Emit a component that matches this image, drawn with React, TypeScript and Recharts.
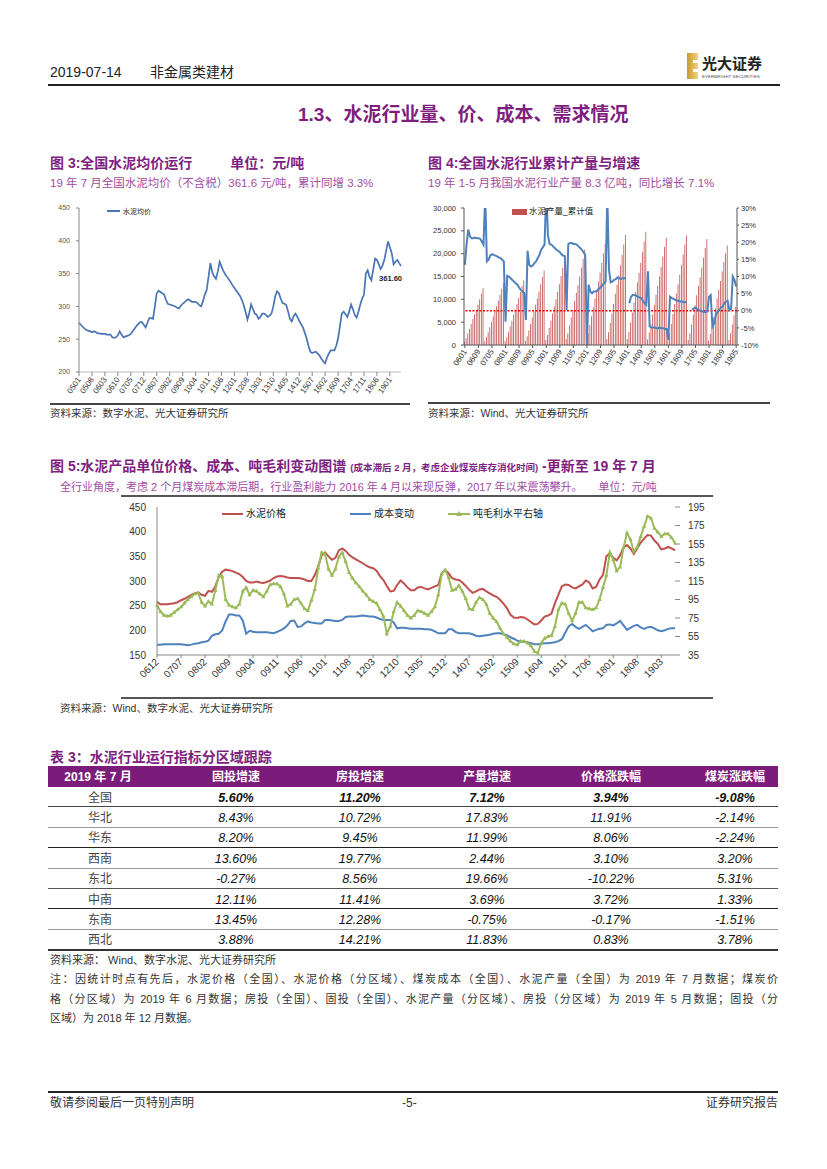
import React from "react";
import { LineChart, ComposedChart, Line, Bar, XAxis, YAxis, ReferenceLine } from "recharts";

const FONT = "'Liberation Sans', Arial, 'Noto Sans CJK SC', sans-serif";
const PURPLE = "#7e1f7f";
const PURPLE_LIGHT = "#a24ca2";

// month labels like "0501" for a run of consecutive months
const monthSeq = (startYear: number, startMonth: number, count: number) =>
  Array.from({ length: count }, (_, i) => {
    const t = startYear * 12 + (startMonth - 1) + i;
    const yy = Math.floor(t / 12) % 100;
    const mm = (t % 12) + 1;
    return `${String(yy).padStart(2, "0")}${String(mm).padStart(2, "0")}`;
  });

// ---- 图3: 全国水泥均价 (2005-01 .. 2019-07)
const avgPriceMonths = monthSeq(2005, 1, 175);
const avgPrice = [
  275, 272, 269, 266, 264, 263, 262, 261, 262, 261, 259, 259,
  258, 258, 258, 257, 257, 257, 253, 252, 253, 256, 262, 257,
  253, 254, 255, 256, 258, 262, 266, 270, 273, 276, 276, 272,
  268, 275, 282, 282, 281, 300, 320, 324, 322, 320, 318, 310,
  304, 303, 302, 301, 300, 298, 297, 301, 304, 306, 309, 311,
  309, 307, 307, 307, 305, 302, 300, 308, 318, 325, 345, 366,
  352, 346, 342, 353, 368, 361, 354, 349, 345, 341, 337, 332,
  328, 324, 320, 316, 310, 302, 292, 280, 290, 303, 296, 289,
  287, 281, 284, 289, 289, 287, 284, 286, 289, 300, 315, 323,
  320, 312, 305, 304, 302, 292, 281, 277, 285, 289, 284, 278,
  273, 268, 260, 251, 240, 231, 229, 230, 231, 228, 225, 220,
  216, 213, 222, 228, 233, 233, 233, 240, 251, 270, 289, 292,
  288, 284, 292, 303, 296, 287, 283, 292, 303, 312, 318, 350,
  355, 345, 340, 356, 373, 371, 364, 357, 362, 371, 385, 399,
  390, 381, 364, 368, 371, 366, 361.6,
];
const avgPriceTicks = [200, 250, 300, 350, 400, 450];

// ---- 图4: 水泥产量累计值 与 累计同比 (2006-01 .. 2019-05)
const outputMonths = monthSeq(2006, 1, 161);
const outputCum = [
  700, 1500, 2500, 3500, 4600, 5700, 6700, 7700, 8800, 10000, 11200, 12400,
  800, 1700, 2800, 3900, 5100, 6300, 7400, 8500, 9700, 11000, 12300, 13600,
  800, 1700, 2900, 4100, 5300, 6600, 7800, 9000, 10300, 11600, 12900, 14200,
  900, 1900, 3200, 4600, 6000, 7400, 8800, 10200, 11700, 13300, 14900, 16300,
  1100, 2200, 3700, 5300, 6900, 8500, 10000, 11600, 13300, 15100, 16900, 18700,
  1300, 2600, 4300, 6000, 7800, 9700, 11400, 13100, 15000, 16900, 18900, 20900,
  1200, 2600, 4400, 6300, 8200, 10200, 12000, 13900, 15900, 18000, 20100, 22100,
  1300, 2800, 4800, 6900, 9000, 11200, 13200, 15200, 17400, 19700, 22000, 24100,
  1300, 2900, 4900, 7100, 9300, 11600, 13700, 15800, 18000, 20300, 22600, 24800,
  1200, 2700, 4600, 6700, 8800, 11000, 13000, 15000, 17100, 19300, 21500, 23500,
  1100, 2600, 4600, 6800, 9000, 11300, 13300, 15400, 17600, 19800, 22000, 24000,
  1100, 2600, 4500, 6600, 8700, 10900, 12900, 14800, 16900, 19100, 21300, 23200,
  1000, 2400, 4000, 6000, 8000, 10200, 12100, 14000, 16100, 18200, 20100, 21800,
  1100, 2700, 4500, 6500, 8300,
];
const outputYoy: (number | null)[] = [
  13.4, 19.3, 23.7, 21.7, 21.2, 21.2, 21.4, 21.2, 21.2, 21.0, 20.2, 19.3,
  34, 14.4, 14.9, 16.1, 16.5, 16.3, 16.1, 15.9, 15.6, 15.4, 14.9, 14.4,
  -3.2, 10.2, 10.0, 9.5, 9.0, 8.5, 8.0, 7.6, 6.8, 6.1, 5.6, 5.1,
  -2.7, 17.5, 13.4, 12.9, 13.2, 13.9, 14.4, 15.4, 16.3, 17.8, 18.5, 19.3,
  35, 22.0, 19.5, 19.3, 18.8, 18.3, 17.8, 17.5, 17.1, 16.5, 16.1, 15.9,
  0.2, 19.5, 19.8, 19.8, 19.5, 19.5, 19.3, 18.8, 18.3, 17.8, 17.1, 16.3,
  -10.5, 7.6, 5.6, 5.1, 5.6, 5.6, 5.8, 6.4, 6.8, 7.4, 8.0, 8.5,
  34, 12.0, 8.3, 8.5, 9.0, 9.2, 9.7, 9.5, 9.3, 9.5, 9.5, 9.5,
  null, 2.2, 4.1, 4.6, 4.6, 4.4, 4.1, 3.9, 3.7, 2.9, 2.2, 1.7,
  11.5, -4.6, -4.9, -4.9, -4.9, -5.1, -5.1, -4.9, -5.1, -5.1, -5.3, -5.3,
  -8.5, 4.1, 3.7, 3.5, 3.2, 2.9, 2.9, 2.7, 2.7, 2.5, 2.5, 2.7,
  null, null, 0.3, 0.7, 0.9, 0.5, 0.2, 0.0, -0.2, -0.4, -0.4, -0.2,
  4.1, 4.6, -4.6, -3.7, -1.2, -0.4, 0.2, 0.9, 1.2, 2.2, 2.7, 2.9,
  0.2, 0.5, 10.0, 9.0, 7.1,
];
const outputTicks = [0, 5000, 10000, 15000, 20000, 25000, 30000];
const yoyTicks = [-10, -5, 0, 5, 10, 15, 20, 25, 30];

// ---- 图5: 价格、成本、吨毛利 (2006-12 .. 2019-07)
const marginMonths = monthSeq(2006, 12, 152);
const cementPrice = [
  258, 253, 253, 253, 254, 255, 257, 261, 264, 268, 272, 275,
  277, 272, 270, 280, 278, 289, 308, 319, 323, 322, 320, 317,
  314, 308, 300, 297, 297, 299, 297, 296, 298, 301, 306, 309,
  310, 309, 307, 306, 306, 306, 305, 303, 300, 300, 312, 330,
  352, 358, 350, 343, 347, 362, 366, 361, 353, 348, 344, 340,
  336, 331, 328, 326, 321, 310, 302, 290, 279, 280, 292, 301,
  295, 287, 281, 281, 287, 288, 285, 283, 286, 289, 292, 315,
  322, 316, 306, 303, 302, 297, 290, 282, 276, 279, 283, 284,
  279, 275, 271, 268, 262, 254, 245, 232, 226, 225, 227, 226,
  222, 217, 212, 213, 220, 228, 230, 234, 255, 272, 289, 293,
  292, 287, 285, 289, 293, 301, 297, 285, 288, 303, 312, 350,
  356, 347, 342, 352, 368, 373, 366, 355, 366, 378, 386, 393,
  392, 382, 375, 364, 366, 369, 366, 362,
];
const costChange = [
  171, 171, 172, 172, 172, 172, 172, 172, 171, 170, 171, 173,
  174, 176, 177, 179, 189, 192, 193, 200, 218, 232, 232, 230,
  230, 220, 193, 199, 197, 196, 196, 196, 196, 195, 194, 197,
  200, 204, 210, 219, 220, 207, 208, 214, 218, 216, 215, 214,
  214, 221, 221, 220, 219, 219, 221, 227, 228, 228, 228, 229,
  230, 229, 228, 228, 226, 223, 221, 221, 221, 216, 204, 205,
  205, 204, 203, 203, 203, 203, 202, 202, 201, 198, 194, 194,
  194, 202, 202, 197, 194, 194, 194, 194, 192, 189, 188, 189,
  190, 191, 193, 194, 194, 192, 190, 186, 183, 179, 177, 177,
  176, 174, 172, 172, 173, 174, 174, 175, 176, 178, 182, 195,
  208, 213, 207, 203, 207, 211, 205, 198, 201, 203, 204, 211,
  212, 210, 214, 219, 210, 201, 205, 209, 211, 206, 203, 206,
  207, 204, 200, 198, 200, 203, 204, 204,
];
const grossMargin = [
  89, 82, 78, 77, 78, 81, 84, 87, 91, 95, 98, 101,
  102, 92, 88, 93, 90, 105, 121, 120, 95, 89, 87, 86,
  90, 104, 108, 100, 105, 104, 101, 98, 104, 111, 112, 112,
  109, 101, 88, 90, 95, 96, 91, 85, 83, 94, 106, 129,
  146, 144, 128, 121, 128, 141, 146, 136, 124, 118, 113, 109,
  104, 100, 95, 93, 91, 84, 77, 58, 66, 82, 92, 88,
  83, 78, 75, 78, 83, 82, 80, 78, 82, 87, 100, 123,
  127, 119, 105, 106, 110, 104, 96, 85, 84, 92, 97, 95,
  90, 80, 75, 71, 64, 58, 54, 50, 47, 46, 50, 50,
  48, 45, 39, 37, 48, 53, 55, 56, 66, 84, 91, 90,
  80, 72, 80, 92, 92, 86, 85, 84, 86, 95, 108, 121,
  146, 138, 126, 130, 151, 167, 160, 147, 152, 163, 174, 185,
  183, 172, 168, 163, 166, 166, 162, 156,
];
const priceTicks = [150, 200, 250, 300, 350, 400, 450];
const marginTicks = [35, 55, 75, 95, 115, 135, 155, 175, 195];

// ---- 表3
const tableHead = ["2019 年 7 月", "固投增速", "房投增速", "产量增速", "价格涨跌幅", "煤炭涨跌幅"];
const regions = ["全国", "华北", "华东", "西南", "东北", "中南", "东南", "西北"];
const fixedInvest = ["5.60%", "8.43%", "8.20%", "13.60%", "-0.27%", "12.11%", "13.45%", "3.88%"];
const estateInvest = ["11.20%", "10.72%", "9.45%", "19.77%", "8.56%", "11.41%", "12.28%", "14.21%"];
const outputGrowth = ["7.12%", "17.83%", "11.99%", "2.44%", "19.66%", "3.69%", "-0.75%", "11.83%"];
const priceGrowth = ["3.94%", "11.91%", "8.06%", "3.10%", "-10.22%", "3.72%", "-0.17%", "0.83%"];
const coalGrowth = ["-9.08%", "-2.14%", "-2.24%", "3.20%", "5.31%", "1.33%", "-1.51%", "3.78%"];

const avgPriceData = avgPriceMonths.map((month, i) => ({ month, price: avgPrice[i] }));
const outputData = outputMonths.map((month, i) => ({ month, cum: outputCum[i], yoy: outputYoy[i] }));
const marginData = marginMonths.map((month, i) => ({
  month,
  price: cementPrice[i],
  cost: costChange[i],
  margin: grossMargin[i],
}));

const RotTick = (props: any) => {
  const { x, y, payload, angle, fs } = props;
  return (
    <g transform={`translate(${x},${y})`}>
      <text x={0} y={0} dy={fs * 0.35} textAnchor="end" transform={`rotate(${angle})`}
        fontSize={fs} fill="#333" fontFamily={FONT}>
        {payload.value}
      </text>
    </g>
  );
};

const Txt = ({ x, y, size, color = "#222", bold = false, children, style = {} }: any) => (
  <div style={{
    position: "absolute", left: x, top: y, fontSize: size, lineHeight: 1, color,
    fontWeight: bold ? 700 : 400, whiteSpace: "nowrap", ...style,
  }}>
    {children}
  </div>
);

const HLine = ({ x, y, w, h = 1, color = "#333" }: any) => (
  <div style={{ position: "absolute", left: x, top: y, width: w, height: h, background: color }} />
);

const LegendLine = ({ x, y, w, color, text, size, tri = false }: any) => (
  <div style={{ position: "absolute", left: x, top: y - size / 2, height: size, display: "flex", alignItems: "center", fontSize: size, lineHeight: 1, color: "#222", whiteSpace: "nowrap" }}>
    <svg width={w} height={8} style={{ marginRight: 3 }}>
      <line x1={0} y1={4} x2={w} y2={4} stroke={color} strokeWidth={2} />
      {tri && <path d={`M${w / 2},1L${w / 2 + 3},6L${w / 2 - 3},6Z`} fill={color} />}
    </svg>
    {text}
  </div>
);

const AvgPriceChart = () => (
  <LineChart width={360} height={205} data={avgPriceData} margin={{ top: 11, right: 9, left: 0, bottom: 0 }}>
    <XAxis dataKey="month" interval={6} height={30} tickSize={4}
      tick={<RotTick angle={-55} fs={8} />}
      axisLine={{ stroke: "#bbb" }} tickLine={{ stroke: "#888" }} />
    <YAxis domain={[200, 450]} ticks={avgPriceTicks} width={29} tickSize={3} tickMargin={6}
      tick={{ fontSize: 7, fill: "#555", fontFamily: FONT }}
      axisLine={{ stroke: "#888" }} tickLine={{ stroke: "#888" }} />
    <Line dataKey="price" stroke="#4a74b3" strokeWidth={1.7} dot={false} isAnimationActive={false}
      label={(p: any) =>
        p.index === avgPrice.length - 1 ? (
          <text key="last" x={p.x + 1} y={p.y + 15} textAnchor="end" fontSize={7.5} fontWeight="bold" fill="#222" fontFamily={FONT}>
            {Number(p.value).toFixed(2)}
          </text>
        ) : <g key={p.index} />
      } />
  </LineChart>
);

const OutputChart = () => (
  <ComposedChart width={345} height={190} data={outputData} margin={{ top: 11, right: 6, left: 0, bottom: 0 }}>
    <XAxis dataKey="month" interval={7} height={42} tickSize={3}
      tick={<RotTick angle={-56} fs={8} />}
      axisLine={{ stroke: "#555" }} tickLine={{ stroke: "#555" }} />
    <YAxis yAxisId="l" domain={[0, 30000]} ticks={outputTicks} width={36} tickSize={3} tickMargin={5}
      tickFormatter={(v: number) => v.toLocaleString("en-US")}
      tick={{ fontSize: 7.5, fill: "#333", fontFamily: FONT }}
      axisLine={{ stroke: "#555" }} tickLine={{ stroke: "#555" }} />
    <YAxis yAxisId="r" orientation="right" domain={[-10, 30]} ticks={yoyTicks} width={30} allowDataOverflow
      tickSize={2} tickMargin={2} tickFormatter={(v: number) => `${v}%`}
      tick={{ fontSize: 7.5, fill: "#333", fontFamily: FONT }}
      axisLine={{ stroke: "#555" }} tickLine={{ stroke: "#555" }} />
    <Bar yAxisId="l" dataKey="cum" fill="#c0504d" barSize={0.8} isAnimationActive={false} />
    <ReferenceLine yAxisId="r" y={0} stroke="#ff0000" strokeDasharray="2 1.5" strokeWidth={1.6} />
    <Line yAxisId="r" dataKey="yoy" stroke="#4f81bd" strokeWidth={2} dot={false} connectNulls={false} isAnimationActive={false} />
  </ComposedChart>
);

const triDot = (p: any) =>
  p.cy == null ? <g key={p.index} /> : (
    <path key={p.index} d={`M${p.cx},${p.cy - 2.4}L${p.cx + 2.1},${p.cy + 1.4}L${p.cx - 2.1},${p.cy + 1.4}Z`} fill="#9bbb59" />
  );

const MarginChart = () => (
  <LineChart width={592} height={198} data={marginData} margin={{ top: 9, right: 8, left: 0, bottom: 0 }}>
    <XAxis dataKey="month" interval={6} height={41} tickSize={3}
      tick={<RotTick angle={-45} fs={10} />}
      axisLine={{ stroke: "#888" }} tickLine={{ stroke: "#888" }} />
    <YAxis yAxisId="l" domain={[150, 450]} ticks={priceTicks} width={36} tickSize={0} tickMargin={11}
      tick={{ fontSize: 10, fill: "#333", fontFamily: FONT }}
      axisLine={{ stroke: "#888" }} tickLine={false} />
    <YAxis yAxisId="r" orientation="right" domain={[35, 195]} ticks={marginTicks} width={30} tickSize={5} tickMargin={8}
      tick={{ fontSize: 10, fill: "#333", fontFamily: FONT }}
      axisLine={false} tickLine={{ stroke: "#888" }} />
    <Line yAxisId="l" dataKey="price" stroke="#c0504d" strokeWidth={2} dot={false} isAnimationActive={false} />
    <Line yAxisId="l" dataKey="cost" stroke="#4f81bd" strokeWidth={2} dot={false} isAnimationActive={false} />
    <Line yAxisId="r" dataKey="margin" stroke="#9bbb59" strokeWidth={2} dot={triDot} isAnimationActive={false} />
  </LineChart>
);

const colCenters = [98, 236, 360, 487, 611, 735];
const rowLines = ["#444", "#999", "#222", "#999", "#555", "#222", "#999", "#333"];

const DataTable = () => {
  const cols = [fixedInvest, estateInvest, outputGrowth, priceGrowth, coalGrowth];
  return (
    <>
      <div style={{ position: "absolute", left: 48, top: 766, width: 730, height: 21, background: "#7b1c7a" }} />
      {tableHead.map((h, i) => (
        <Txt key={h} x={colCenters[i] - 60} y={770.5} size={12} bold color="#fff"
          style={{ width: 120, textAlign: "center" }}>{h}</Txt>
      ))}
      {regions.map((r, ri) => {
        const top = 787 + ri * 20.4;
        return (
          <React.Fragment key={r}>
            <Txt x={colCenters[0] - 58} y={top + 4.5} size={12} color="#444" style={{ width: 120, textAlign: "center" }}>{r}</Txt>
            {cols.map((c, ci) => (
              <Txt key={ci} x={colCenters[ci + 1] - 60} y={top + 4.5} size={12.5} color="#111" bold={ri === 0}
                style={{ width: 120, textAlign: "center", fontStyle: "italic" }}>{c[ri]}</Txt>
            ))}
            <HLine x={48} y={top + 19.4} w={730} h={ri === regions.length - 1 ? 2 : 1} color={rowLines[ri]} />
          </React.Fragment>
        );
      })}
    </>
  );
};

const App = () => (
  <div style={{ position: "absolute", left: 0, top: 0, width: 827, height: 1169, background: "#fff", overflow: "hidden", fontFamily: FONT }}>
    {/* header */}
    <Txt x={50} y={65} size={14} color="#222">2019-07-14</Txt>
    <Txt x={150} y={65} size={14} color="#222">非金属类建材</Txt>
    <HLine x={48} y={84} w={732} h={1.5} color="#222" />
    <div style={{ position: "absolute", left: 687, top: 53, width: 11, height: 26, background: "linear-gradient(90deg,#c99a2e,#f1d27c)" }} />
    <div style={{ position: "absolute", left: 693, top: 60, width: 5, height: 3, background: "#fff" }} />
    <div style={{ position: "absolute", left: 693, top: 69, width: 5, height: 3, background: "#fff" }} />
    <Txt x={702} y={56} size={15} bold color="#222">光大证券</Txt>
    <Txt x={702} y={74} size={6} color="#444" style={{ transform: "scale(0.7)", transformOrigin: "left top", letterSpacing: 0.3 }}>EVERBRIGHT SECURITIES</Txt>

    <Txt x={298} y={105} size={19} bold color={PURPLE}>1.3、水泥行业量、价、成本、需求情况</Txt>

    {/* figure 3 */}
    <Txt x={50} y={156} size={14} bold color={PURPLE}>图 3:全国水泥均价运行<span style={{ marginLeft: 38 }}>单位：元/吨</span></Txt>
    <Txt x={50} y={178} size={11.5} color={PURPLE_LIGHT}>19 年 7 月全国水泥均价（不含税）361.6 元/吨，累计同增 3.3%</Txt>
    <div style={{ position: "absolute", left: 50, top: 197 }}><AvgPriceChart /></div>
    <LegendLine x={107} y={211} w={13} color="#4a74b3" text="水泥均价" size={7} />
    <HLine x={50} y={403} w={360} h={1.5} color="#444" />
    <Txt x={50} y={408} size={10.5} color="#333">资料来源：数字水泥、光大证券研究所</Txt>

    {/* figure 4 */}
    <Txt x={428} y={156} size={14} bold color={PURPLE}>图 4:全国水泥行业累计产量与增速</Txt>
    <Txt x={428} y={178} size={11.5} color={PURPLE_LIGHT}>19 年 1-5 月我国水泥行业产量 8.3 亿吨，同比增长 7.1%</Txt>
    <div style={{ position: "absolute", left: 428, top: 197 }}><OutputChart /></div>
    <div style={{ position: "absolute", left: 512, top: 207, height: 9, display: "flex", alignItems: "center", fontSize: 8.5, lineHeight: 1, whiteSpace: "nowrap", color: "#222" }}>
      <span style={{ display: "inline-block", width: 15, height: 6, background: "#c0504d", marginRight: 2 }} />水泥产量_累计值
    </div>
    <HLine x={428} y={402} w={342} h={1.5} color="#444" />
    <Txt x={428} y={408} size={10.5} color="#333">资料来源：Wind、光大证券研究所</Txt>

    {/* figure 5 */}
    <Txt x={50} y={459} size={14} bold color={PURPLE}>
      图 5:水泥产品单位价格、成本、吨毛利变动图谱<span style={{ fontSize: 9.5, marginLeft: 4 }}>(成本滞后 2 月，考虑企业煤炭库存消化时间)</span> -更新至 19 年 7 月
    </Txt>
    <Txt x={60} y={482} size={11} color={PURPLE_LIGHT}>全行业角度，考虑 2 个月煤炭成本滞后期，行业盈利能力 2016 年 4 月以来现反弹，2017 年以来震荡攀升。<span style={{ marginLeft: 16 }}>单位：元/吨</span></Txt>
    <HLine x={121} y={495} w={592} h={1.5} color="#555" />
    <div style={{ position: "absolute", left: 121, top: 498 }}><MarginChart /></div>
    <LegendLine x={222} y={514} w={21} color="#c0504d" text="水泥价格" size={10} />
    <LegendLine x={350} y={514} w={21} color="#4f81bd" text="成本变动" size={10} />
    <LegendLine x={448} y={514} w={22} color="#9bbb59" text="吨毛利水平右轴" size={10} tri />
    <HLine x={121} y={697} w={592} h={1.5} color="#555" />
    <Txt x={60} y={703} size={10.5} color="#333">资料来源：Wind、数字水泥、光大证券研究所</Txt>

    {/* table 3 */}
    <Txt x={50} y={750} size={14} bold color={PURPLE}>表 3：水泥行业运行指标分区域跟踪</Txt>
    <DataTable />
    <Txt x={50} y={955} size={11} color="#333">资料来源： Wind、数字水泥、光大证券研究所</Txt>
    <div style={{ position: "absolute", left: 50, top: 970, width: 728, fontSize: 11, lineHeight: "19.5px", color: "#333" }}>
      <div style={{ textAlign: "justify", textAlignLast: "justify", whiteSpace: "nowrap" }}>注：因统计时点有先后，水泥价格（全国）、水泥价格（分区域）、煤炭成本（全国）、水泥产量（全国）为 2019 年 7 月数据；煤炭价</div>
      <div style={{ textAlign: "justify", textAlignLast: "justify", whiteSpace: "nowrap" }}>格（分区域）为 2019 年 6 月数据；房投（全国）、固投（全国）、水泥产量（分区域）、房投（分区域）为 2019 年 5 月数据；固投（分</div>
      <div>区域）为 2018 年 12 月数据。</div>
    </div>

    {/* footer */}
    <HLine x={48} y={1091} w={730} h={1.5} color="#222" />
    <Txt x={50} y={1097} size={12} color="#333">敬请参阅最后一页特别声明</Txt>
    <Txt x={402} y={1097} size={12} color="#333">-5-</Txt>
    <Txt x={700} y={1097} size={12} color="#333" style={{ width: 78, textAlign: "right" }}>证券研究报告</Txt>
  </div>
);

export default App;
